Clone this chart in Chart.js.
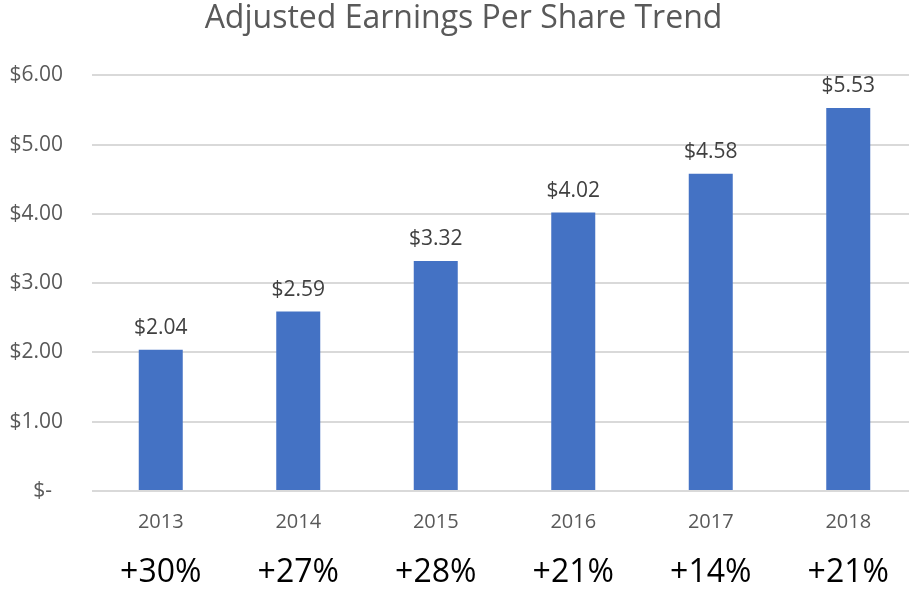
<!DOCTYPE html>
<html>
<head>
<meta charset="utf-8">
<script src="https://cdn.jsdelivr.net/npm/chart.js@4.4.1/dist/chart.umd.min.js"></script>
<style>
  html, body { margin: 0; padding: 0; background: #fff; overflow: hidden; }
  #wrap { width: 925px; height: 590px; }
</style>
</head>
<body>
<div id="wrap"><canvas id="epsChart"></canvas></div>
<script>
    const years = ['2013', '2014', '2015', '2016', '2017', '2018'];
    const eps_values = [2.04, 2.59, 3.32, 4.02, 4.58, 5.53];
    const growth_labels = ['+30%', '+27%', '+28%', '+21%', '+14%', '+21%'];
    const y_ticks = [0, 1, 2, 3, 4, 5, 6];

    function moneyStr(v) {
        if (v === 0) return '$-  ';
        return '$' + v.toFixed(2);
    }

    // draws the value above each bar
    const barValuePlugin = {
        id: 'barValues',
        afterDatasetsDraw(chart) {
            const ctx = chart.ctx;
            const meta = chart.getDatasetMeta(0);
            ctx.save();
            ctx.font = '21px "Open Sans"';
            ctx.fillStyle = '#404040';
            ctx.textAlign = 'center';
            ctx.textBaseline = 'alphabetic';
            meta.data.forEach((bar, i) => {
                ctx.fillText(moneyStr(eps_values[i]), bar.x, bar.y - 16);
            });
            ctx.restore();
        }
    };

    function initChart() {
        let ctx = document.getElementById('epsChart').getContext('2d');
        const config = {
            type: 'bar',
            data: {
                labels: years,
                datasets: [{
                    label: 'Adjusted EPS',
                    data: eps_values,
                    backgroundColor: '#4472C4',
                    borderWidth: 0,
                    barPercentage: 0.32,
                    categoryPercentage: 1.0
                }]
            },
            options: {
                responsive: true,
                maintainAspectRatio: false,
                animation: false,
                layout: { padding: { top: 0, left: 10, right: 8, bottom: 0 } },
                plugins: {
                    legend: { display: false },
                    tooltip: { enabled: false },
                    title: {
                        display: true,
                        text: 'Adjusted Earnings Per Share Trend',
                        color: '#595959',
                        font: { family: '"Open Sans"', size: 32, weight: 'normal', lineHeight: 1.2 },
                        padding: { top: 0, bottom: 37 }
                    }
                },
                scales: {
                    x: {
                        grid: { display: false, drawTicks: false },
                        border: { display: false },
                        afterFit: (axis) => { axis.height = 43; },
                        ticks: {
                            color: '#595959',
                            font: { family: '"Open Sans"', size: 20, lineHeight: 1.2 },
                            padding: 19
                        }
                    },
                    x2: {
                        type: 'category',
                        position: 'bottom',
                        labels: growth_labels,
                        weight: 1,
                        grid: { display: false, drawTicks: false },
                        border: { display: false },
                        afterFit: (axis) => { axis.height = 56; },
                        ticks: {
                            color: '#000000',
                            font: { family: '"Open Sans"', size: 32, lineHeight: 1.0 },
                            padding: 23
                        }
                    },
                    y: {
                        min: 0,
                        max: 6,
                        afterBuildTicks: (axis) => { axis.ticks = y_ticks.map(v => ({ value: v })); },
                        afterFit: (axis) => { axis.width = 82; },
                        grid: { color: '#d9d9d9', lineWidth: 2, drawTicks: false },
                        border: { display: false },
                        ticks: {
                            color: '#595959',
                            font: { family: '"Open Sans"', size: 21 },
                            padding: 29,
                            callback: (v) => moneyStr(v)
                        }
                    }
                }
            },
            plugins: [barValuePlugin]
        };
        window.epsChart = new Chart(ctx, config);
    }

    document.addEventListener("DOMContentLoaded", initChart);
</script>
</body>
</html>
